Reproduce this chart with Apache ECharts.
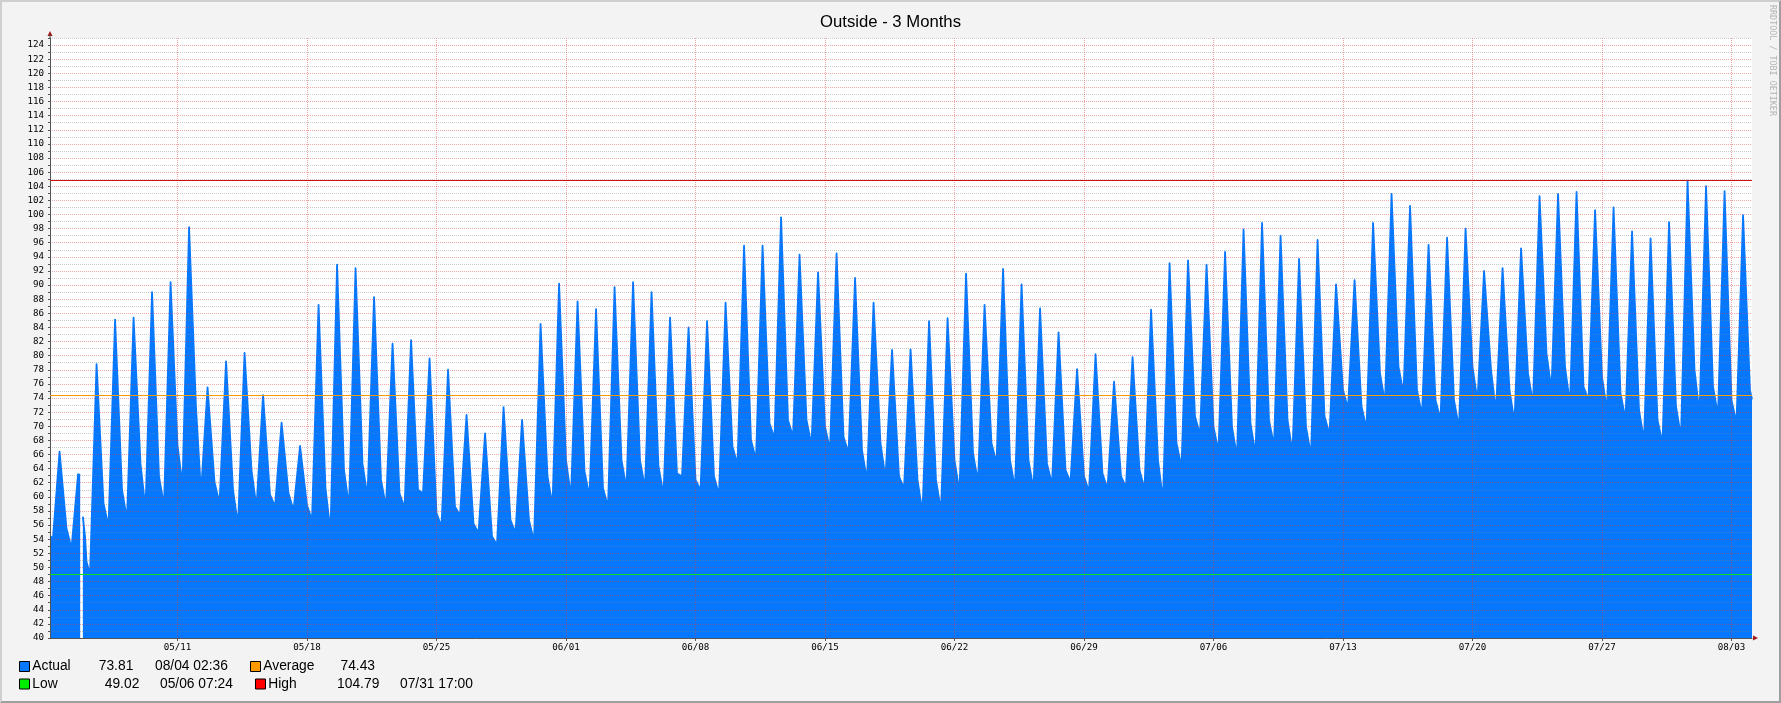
<!DOCTYPE html>
<html>
<head>
<meta charset="utf-8">
<title>Outside - 3 Months</title>
<script src="https://cdn.jsdelivr.net/npm/echarts@6/dist/echarts.min.js"></script>
<style>
  html, body { margin: 0; padding: 0; background: #f3f3f3; }
  #main { position: absolute; left: 0; top: 0; width: 1781px; height: 703px; }
  #frame { position: absolute; left: 0; top: 0; width: 1781px; height: 703px; box-sizing: border-box;
           border-top: 2px solid #cfcfcf; border-left: 2px solid #cfcfcf;
           border-right: 2px solid #9e9e9e; border-bottom: 2px solid #9e9e9e; pointer-events: none; }
</style>
</head>
<body>
<div id="main"></div>
<div id="frame"></div>
<script>
// readings per day, 05/04 .. 08/03 (afternoon high)
var dayHigh = [
  66.4, 63.2, 78.8, 85.1, 85.4, 89.0, 90.4, 98.2, 75.5, 79.2, 80.4, 74.4, 70.5, 67.2,
  87.2, 92.9, 92.4, 88.3, 81.7, 82.2, 79.6, 78.0, 71.6, 69.0, 72.7, 70.9, 84.5, 90.2,
  87.7, 86.6, 89.7, 90.4, 89.0, 85.4, 84.0, 84.9, 87.5, 95.6, 95.6, 99.6, 94.3, 91.8,
  94.5, 91.0, 87.5, 80.8, 80.9, 84.9, 85.3, 91.6, 87.2, 92.3, 90.1, 86.7, 83.3, 78.1,
  80.2, 76.3, 79.8, 86.5, 93.1, 93.5, 92.9, 94.7, 97.9, 98.8, 97.0, 93.7, 96.4, 90.1,
  90.7, 98.8, 102.9, 101.2, 95.7, 96.7, 98.0, 92.0, 92.4, 95.2, 102.6, 102.9, 103.2, 100.6,
  101.0, 97.6, 96.6, 98.9, 104.79, 104.0, 103.3, 99.9
];
// morning low, 05/04 .. 08/03
var dayLow = [
  54.2, 52.7, 49.02, 55.8, 56.8, 58.3, 58.8, 61.7, 60.6, 59.1, 56.0, 58.5, 58.6, 58.1,
  56.7, 55.1, 58.6, 60.0, 58.6, 58.4, 60.5, 55.8, 57.4, 54.9, 53.2, 54.9, 53.7, 58.8,
  60.0, 60.1, 58.6, 61.2, 61.2, 60.3, 62.9, 60.9, 60.3, 64.6, 65.3, 68.3, 68.5, 67.3,
  66.7, 66.2, 62.3, 62.7, 61.2, 57.8, 58.0, 60.7, 62.1, 64.8, 61.2, 61.1, 61.8, 62.1,
  60.7, 61.1, 61.4, 61.1, 59.5, 64.2, 68.8, 66.5, 65.7, 66.0, 67.2, 66.3, 65.9, 68.8,
  72.5, 69.7, 73.3, 74.7, 71.6, 71.0, 69.8, 73.6, 72.1, 70.6, 73.2, 75.2, 73.2, 73.7,
  72.2, 71.0, 68.0, 67.6, 68.5, 71.8, 71.6, 70.5
];
// value at midnight, 05/05 .. 08/04
var dayMidnight = [
  55.5, 54.4, 59.1, 61.0, 64.7, 62.9, 67.3, 72.7, 62.1, 61.0, 63.8, 60.3, 60.5, 58.8,
  61.2, 63.8, 64.7, 62.4, 60.5, 61.0, 57.7, 58.6, 56.2, 54.4, 56.7, 56.7, 62.9, 65.2,
  63.6, 61.2, 65.2, 65.2, 64.3, 63.3, 62.4, 62.9, 67.1, 68.0, 70.4, 70.9, 70.9, 69.9,
  68.5, 66.6, 67.6, 62.9, 62.4, 62.4, 65.2, 66.2, 67.6, 65.2, 65.2, 64.7, 63.8, 62.9,
  63.3, 62.9, 63.8, 65.2, 67.6, 71.4, 69.9, 69.9, 70.4, 70.9, 70.9, 69.9, 71.4, 75.1,
  72.8, 77.5, 78.4, 75.1, 73.7, 73.7, 78.4, 78.0, 75.1, 77.5, 80.3, 78.4, 75.6, 77.0,
  74.7, 72.3, 70.9, 72.8, 78.0, 75.6, 73.7, 75.1
];
// single readings: first/last sample and the data gap on 05/05
var extraReadings = [
  ['05/04 02:36', 54.4],
  ['05/05 17:45', 63.1],
  ['05/05 19:30', '-'],
  ['05/05 21:15', 57.2],
  ['05/06 02:00', 50.8],
  ['08/04 02:36', 73.81]
];
var weekLabels = ['05/11', '05/18', '05/25', '06/01', '06/08', '06/15', '06/22',
                  '06/29', '07/06', '07/13', '07/20', '07/27', '08/03'];
var lastReading = { at: '08/04 02:36', value: 73.81 };
var average = 74.43;
var lowRecord = { at: '05/06 07:24', value: 49.02 };
var highRecord = { at: '07/31 17:00', value: 104.79 };

var YEAR = 2014, DAY = 86400000, HOUR = 3600000;
var LOW_HOUR = 6.5, HIGH_HOUR = 15;

function ts(s) {
  var p = s.split(' ');
  var md = p[0].split('/').map(Number);
  var hm = (p[1] || '00:00').split(':').map(Number);
  return Date.UTC(YEAR, md[0] - 1, md[1], hm[0], hm[1]);
}
function pad(n) { return (n < 10 ? '0' : '') + n; }

var firstDay = ts('05/04');
var points = [];
dayHigh.forEach(function (hi, i) {
  var day = firstDay + i * DAY;
  if (i > 0) points.push([day, dayMidnight[i - 1]]);
  points.push([day + LOW_HOUR * HOUR, dayLow[i]]);
  points.push([day + HIGH_HOUR * HOUR, hi]);
});
points.push([firstDay + dayHigh.length * DAY, dayMidnight[dayMidnight.length - 1]]);
extraReadings.forEach(function (r) { points.push([ts(r[0]), r[1]]); });
points.sort(function (a, b) { return a[0] - b[0]; });

var start = ts(extraReadings[0][0]);
var end = ts(lastReading.at);
var weekTicks = weekLabels.map(function (s) { return ts(s); });

var gridMajor = 'rgba(220,60,60,0.45)';
var gridMinor = 'rgba(128,128,128,0.42)';
var axisColor = '#555';
var blue = '#0578ff';

var chart = echarts.init(document.getElementById('main'));

var lbl = { fontFamily: 'Liberation Sans', fontSize: 13.8, fill: '#000', verticalAlign: 'middle' };
function txt(x, y, s, align) {
  return { type: 'text', x: x, y: y, silent: true,
           style: Object.assign({ text: s, align: align || 'left' }, lbl) };
}
function box(x, y, color) {
  return { type: 'rect', silent: true, shape: { x: x, y: y, width: 10, height: 10 },
           style: { fill: color, stroke: '#000', lineWidth: 1 } };
}

chart.setOption({
  animation: false,
  backgroundColor: '#f3f3f3',
  title: {
    text: 'Outside - 3 Months', left: 'center', top: 14, padding: 0,
    textStyle: { fontFamily: 'Liberation Sans', fontSize: 16.7, fontWeight: 'normal', color: '#000' }
  },
  grid: {
    left: 50, right: 29, top: 38, bottom: 65, show: true,
    backgroundColor: '#fff', borderWidth: 0, outerBoundsMode: 'none'
  },
  xAxis: {
    type: 'value', min: start, max: end, z: 3,
    axisLine: { lineStyle: { color: axisColor, width: 1 } },
    axisTick: { show: true, length: 3, customValues: weekTicks, lineStyle: { color: axisColor } },
    axisLabel: {
      customValues: weekTicks, margin: 5, color: '#000',
      fontFamily: 'DejaVu Sans Mono', fontSize: 9.2, hideOverlap: false,
      formatter: function (v) { var d = new Date(v); return pad(d.getUTCMonth() + 1) + '/' + pad(d.getUTCDate()); }
    },
    splitLine: { show: true, lineStyle: { color: gridMajor, width: 1, type: [1, 1] } }
  },
  yAxis: {
    type: 'value', min: 40, max: 125, interval: 1, z: 3,
    axisLine: { show: true, lineStyle: { color: axisColor, width: 1 } },
    axisTick: { show: true, length: 2, lineStyle: { color: axisColor } },
    axisLabel: {
      margin: 6, color: '#000', fontFamily: 'DejaVu Sans Mono', fontSize: 9.2,
      formatter: function (v) { return (v % 2 === 0 && v < 125) ? String(v) : ''; }
    },
    splitLine: { show: true, lineStyle: { color: [gridMajor, gridMinor], width: 1, type: [1, 1] } }
  },
  series: [{
    name: 'Actual', type: 'line', data: points, symbol: 'none', showSymbol: false,
    connectNulls: false, z: 2,
    lineStyle: { width: 1.8, color: blue, join: 'round' },
    areaStyle: { color: blue, opacity: 1, origin: 'start' },
    markLine: {
      silent: true, symbol: 'none', z: 5, label: { show: false },
      data: [
        { yAxis: highRecord.value, lineStyle: { color: '#d01010', width: 1.2, type: 'solid' } },
        { yAxis: average, lineStyle: { color: '#ff9900', width: 1.2, type: 'solid' } },
        { yAxis: lowRecord.value, lineStyle: { color: '#10e010', width: 1.2, type: 'solid' } }
      ]
    }
  }],
  graphic: [
    { type: 'polygon', silent: true, shape: { points: [[47.5, 36], [52.5, 36], [50, 31]] }, style: { fill: '#a01818' } },
    { type: 'line', silent: true, shape: { x1: 50, y1: 38, x2: 50, y2: 35 }, style: { stroke: axisColor } },
    { type: 'polygon', silent: true, shape: { points: [[1753, 635.5], [1753, 640.5], [1758, 638]] }, style: { fill: '#a01818' } },
    { type: 'text', silent: true, x: 1772, y: 5, rotation: -Math.PI / 2,
      style: { text: 'RRDTOOL / TOBI OETIKER', fontFamily: 'DejaVu Sans Mono', fontSize: 8.4,
               fill: '#b4b4b4', align: 'left', verticalAlign: 'middle' } },
    box(19.5, 661.5, blue),
    txt(32.3, 666, 'Actual'),
    txt(133.3, 666, lastReading.value.toFixed(2), 'right'),
    txt(155, 666, lastReading.at),
    box(250.5, 661.5, '#ff9900'),
    txt(263.3, 666, 'Average'),
    txt(375, 666, average.toFixed(2), 'right'),
    box(19.5, 679, '#00ee00'),
    txt(32.3, 684, 'Low'),
    txt(139.3, 684, lowRecord.value.toFixed(2), 'right'),
    txt(160, 684, lowRecord.at),
    box(255.5, 679, '#ff0000'),
    txt(268.3, 684, 'High'),
    txt(379.3, 684, highRecord.value.toFixed(2), 'right'),
    txt(400, 684, highRecord.at)
  ]
});
</script>
</body>
</html>
